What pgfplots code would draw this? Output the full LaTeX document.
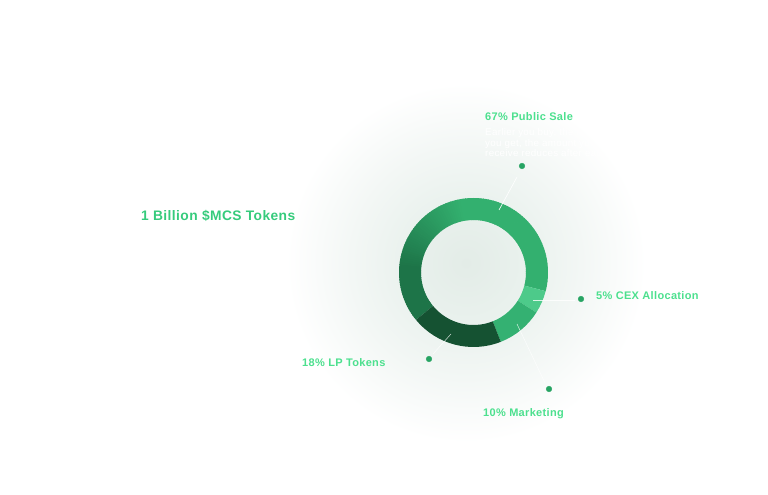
\documentclass[border=0pt]{standalone}
\usepackage{pgfplots}
\pgfplotsset{compat=1.18}
\usepackage{pgfplotstable}
\usepackage{fontspec}
\setmainfont{Liberation Sans}
\newfontfamily\lab{Liberation Sans}[LetterSpace=3]
\newfontfamily\titf{Liberation Sans}[LetterSpace=3]

\definecolor{glowA}{HTML}{E3ECE7}
\definecolor{glowB}{HTML}{E9F1ED}
\definecolor{glowC}{HTML}{F3F7F5}
\definecolor{publight}{HTML}{33B06F}
\definecolor{pubdark}{HTML}{1D7448}
\definecolor{cexc}{HTML}{4DCA8A}
\definecolor{mktc}{HTML}{34B172}
\definecolor{lpc}{HTML}{155232}
\definecolor{dotc}{HTML}{27A463}
\definecolor{labc}{HTML}{4CE08E}
\definecolor{titc}{HTML}{36CB7C}

\pgfdeclareradialshading{glow}{\pgfpoint{0bp}{0bp}}{color(0bp)=(glowA); color(8bp)=(glowB); color(16bp)=(glowC); color(25bp)=(white); color(50bp)=(white)}

\pgfplotstableread{
name value
Public 65
CEX 5
Marketing 10
LP 20
}\alloc

\def\cx{473.5}
\def\cy{222.5}
\def\Ro{74.5pt}
\def\Ri{52.5pt}
\newcommand\ring[3]{\fill[#3] ([shift={(#1:\Ro)}]axis cs:\cx,\cy) arc[start angle=#1,end angle=#2,radius=\Ro] -- ([shift={(#2:\Ri)}]axis cs:\cx,\cy) arc[start angle=#2,end angle=#1,radius=\Ri] -- cycle;}

\begin{document}
\begin{tikzpicture}
\pgfplotstablegetelem{0}{value}\of\alloc \xdef\vPub{\pgfplotsretval}
\pgfplotstablegetelem{1}{value}\of\alloc \xdef\vCEX{\pgfplotsretval}
\pgfplotstablegetelem{2}{value}\of\alloc \xdef\vMkt{\pgfplotsretval}
\pgfplotstablegetelem{3}{value}\of\alloc \xdef\vLP{\pgfplotsretval}
\pgfmathsetmacro\aA{-14.5}
\pgfmathsetmacro\aB{\aA-3.6*\vCEX}
\pgfmathsetmacro\aC{\aB-3.6*\vMkt}
\pgfmathsetmacro\aD{\aC-3.6*\vLP}
\pgfmathsetmacro\aE{\aD-3.6*\vPub}
\xdef\aA{\aA}\xdef\aB{\aB}\xdef\aC{\aC}\xdef\aD{\aD}\xdef\aE{\aE}
\gdef\pubcmds{}
\pgfmathtruncatemacro\N{ceil((\aD-\aE)/2)}
\xdef\N{\N}
\pgfmathsetmacro\stp{(\aD-\aE)/\N}
\xdef\stp{\stp}
\foreach \k in {1,...,\N}{
  \pgfmathsetmacro\ss{\aD-(\k-1)*\stp}
  \pgfmathsetmacro\ee{max(\aD-\k*\stp-0.6,\aE)}
  \pgfmathsetmacro\mm{(\ss+\ee)/2+360}
  \pgfmathsetmacro\pp{100*min(1,max(0,(\mm-100)/75))}
  \xdef\pubcmds{\unexpanded\expandafter{\pubcmds}\noexpand\ring{\ss}{\ee}{pubdark!\pp!publight}}
}
\begin{axis}[scale only axis, width=768pt, height=495pt,
  xmin=0, xmax=768, ymin=0, ymax=495, hide axis, clip=false]
\path[draw=none, fill=none] (axis cs:0,0) rectangle (axis cs:768,495);
\shade[shading=glow] (axis cs:466,232) circle[radius=180pt];
\pubcmds
\ring{\aA}{\aB}{cexc}
\ring{\aB}{\aC}{mktc}
\ring{\aC}{\aD}{lpc}
% leader lines
\draw[white, line width=0.6pt] (axis cs:517,318) -- (axis cs:499,285);
\draw[white, opacity=0.8, line width=0.5pt] (axis cs:533,195) -- (axis cs:575,195);
\draw[white, opacity=0.8, line width=0.5pt] (axis cs:517,171) -- (axis cs:545,112);
\draw[white, opacity=0.8, line width=0.5pt] (axis cs:451,161) -- (axis cs:433,141);
\addplot[only marks, mark=*, mark size=2.8pt, draw=dotc, fill=dotc]
  coordinates {(522,329) (581,196) (549,106) (429,136)};
% labels
\node[anchor=base west, inner sep=0, text=titc, font=\titf\bfseries\fontsize{13.8}{16}\selectfont] at (axis cs:141,274) {1 Billion \$MCS Tokens};
\node[anchor=base west, inner sep=0, text=labc, font=\lab\bfseries\fontsize{11}{13}\selectfont] at (axis cs:485,374) {67\% Public Sale};
\node[anchor=base west, inner sep=0, text=white, font=\lab\fontsize{9.8}{11}\selectfont] at (axis cs:485,359) {Earlier you buy, the more};
\node[anchor=base west, inner sep=0, text=white, font=\lab\fontsize{9.8}{11}\selectfont] at (axis cs:485,348.3) {you get, the amount you};
\node[anchor=base west, inner sep=0, text=white, font=\lab\fontsize{9.8}{11}\selectfont] at (axis cs:485,338) {receive reduces after each};
\node[anchor=base west, inner sep=0, text=labc, font=\lab\bfseries\fontsize{11}{13}\selectfont] at (axis cs:596,195.5) {5\% CEX Allocation};
\node[anchor=base west, inner sep=0, text=labc, font=\lab\bfseries\fontsize{11}{13}\selectfont] at (axis cs:302,128.3) {18\% LP Tokens};
\node[anchor=base west, inner sep=0, text=labc, font=\lab\bfseries\fontsize{11}{13}\selectfont] at (axis cs:483,78.5) {10\% Marketing};
\end{axis}
\end{tikzpicture}
\end{document}
